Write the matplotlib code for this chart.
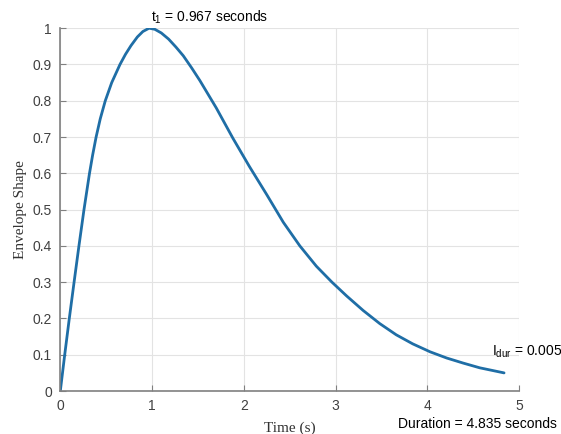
"""Envelope shape curve, MATLAB-style figure redrawn in matplotlib."""

import matplotlib
matplotlib.use("Agg")
import matplotlib.pyplot as plt

# values
TIME = [0.0, 0.048, 0.098, 0.150, 0.203, 0.258, 0.318, 0.352, 0.39, 0.435,
        0.49, 0.56, 0.65, 0.71, 0.77, 0.84, 0.90, 0.967, 1.03, 1.10,
        1.18, 1.26, 1.34, 1.43, 1.52, 1.70, 1.88, 2.06, 2.25, 2.43,
        2.61, 2.79, 2.96, 3.12, 3.30, 3.48, 3.66, 3.84, 4.03, 4.21,
        4.39, 4.57, 4.835]
ENVELOPE = [0.0, 0.1, 0.2, 0.3, 0.4, 0.5, 0.6, 0.65, 0.7, 0.75,
            0.8, 0.85, 0.9, 0.928, 0.952, 0.976, 0.991, 1.0, 0.997, 0.987,
            0.970, 0.948, 0.924, 0.891, 0.856, 0.780, 0.697, 0.619, 0.541, 0.465,
            0.400, 0.344, 0.300, 0.262, 0.222, 0.186, 0.155, 0.130, 0.108, 0.091,
            0.077, 0.064, 0.050]

X_TICKS = [0, 1, 2, 3, 4, 5]
Y_TICKS = [0, 0.1, 0.2, 0.3, 0.4, 0.5, 0.6, 0.7, 0.8, 0.9, 1]
Y_TICK_LABELS = ["0", "0.1", "0.2", "0.3", "0.4", "0.5", "0.6", "0.7", "0.8", "0.9", "1"]

T1 = 0.967
DURATION = 4.835
I_DUR = 0.005

LINE_BLUE = "#1f6ea6"
AXIS_GREY = "#808080"
TICK_TEXT = "#404040"

plt.rcParams["font.family"] = ["Liberation Sans", "DejaVu Sans"]
plt.rcParams["mathtext.fontset"] = "custom"
plt.rcParams["mathtext.rm"] = "Liberation Sans"
plt.rcParams["mathtext.it"] = "Liberation Sans"

fig = plt.figure(figsize=(5.61, 4.34), dpi=100)
ax = fig.add_axes([0.1075, 0.099, 0.818, 0.836])

ax.plot(TIME, ENVELOPE, color=LINE_BLUE, linewidth=2.0,
        solid_capstyle="round", solid_joinstyle="round")

ax.set_xlim(0, 5)
ax.set_ylim(0, 1)
ax.set_xticks(X_TICKS)
ax.set_yticks(Y_TICKS)
ax.set_yticklabels(Y_TICK_LABELS)
ax.grid(True, color="#e3e3e3", linewidth=0.8)
ax.set_axisbelow(True)

for side in ("top", "right"):
    ax.spines[side].set_visible(False)
for side in ("left", "bottom"):
    ax.spines[side].set_color(AXIS_GREY)
    ax.spines[side].set_linewidth(1.2)

ax.tick_params(direction="in", length=4, width=0.8, color=AXIS_GREY,
               labelsize=10, labelcolor=TICK_TEXT, pad=6)

ax.set_xlabel("Time (s)", family="Liberation Serif", fontsize=11,
              color="#333333", labelpad=6)
ax.set_ylabel("Envelope Shape", family="Liberation Serif", fontsize=11,
              color="#333333", labelpad=4)

ax.text(0.985, 1.03, f"t$_{{1}}$ = {T1:.3f} seconds", fontsize=10,
        ha="left", va="center", color="black")
ax.text(4.70, 0.107, f"I$_{{dur}}$ = {I_DUR:.3f}", fontsize=10,
        ha="left", va="center", color="black")
fig.text(0.709, 0.022, f"Duration = {DURATION:.3f} seconds", fontsize=10,
         ha="left", va="center", color="black")

fig.savefig("out.png", dpi=100)
